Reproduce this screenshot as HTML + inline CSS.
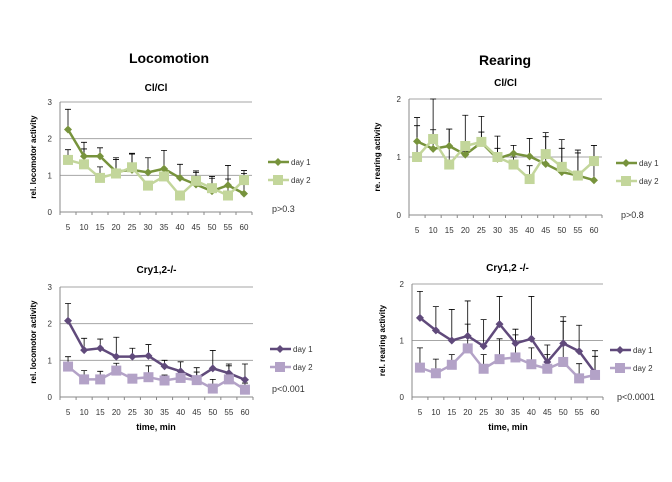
<!DOCTYPE html>
<html><head><meta charset="utf-8"><style>
body{margin:0;background:#fff;}
svg{display:block;font-family:"Liberation Sans",sans-serif;}
</style></head><body>
<svg id="c" width="672" height="482">
<text x="169" y="63" font-size="14" font-weight="bold" text-anchor="middle">Locomotion</text>
<text x="505" y="65" font-size="14" font-weight="bold" text-anchor="middle">Rearing</text>
<text x="156" y="430" font-size="9" font-weight="bold" text-anchor="middle">time, min</text>
<text x="508" y="430" font-size="9" font-weight="bold" text-anchor="middle">time, min</text>
</svg>
<script>
const categories=[5,10,15,20,25,30,35,40,45,50,55,60];
const loc1Day1=[2.25,1.52,1.52,1.1,1.15,1.08,1.18,0.93,0.75,0.57,0.73,0.5];
const loc1Err1=[2.8,1.9,1.75,1.48,1.6,1.48,1.68,1.3,1.12,0.97,1.27,1.13];
const loc1Day2=[1.42,1.3,0.93,1.05,1.22,0.72,0.97,0.45,0.85,0.65,0.45,0.87];
const loc1Err2=[1.7,1.72,1.23,1.43,1.58,0.8,1.0,0.55,1.08,0.92,0.9,1.05];
const rear1Day1=[1.27,1.14,1.19,1.04,1.25,0.97,1.06,1.01,0.88,0.74,0.68,0.6];
const rear1Err1=[1.68,2.0,1.48,1.72,1.7,1.36,1.2,1.32,1.42,1.3,1.12,1.2];
const rear1Day2=[1.0,1.31,0.87,1.19,1.26,1.0,0.87,0.62,1.05,0.83,0.68,0.93];
const rear1Err2=[1.54,1.47,1.48,1.1,1.43,1.15,1.0,0.85,1.35,1.15,1.07,1.2];
const loc2Day1=[2.08,1.28,1.33,1.1,1.1,1.12,0.84,0.7,0.5,0.78,0.65,0.47];
const loc2Err1=[2.55,1.6,1.58,1.63,1.33,1.43,1.0,0.96,0.8,1.27,0.9,0.9];
const loc2Day2=[0.83,0.48,0.48,0.72,0.5,0.54,0.45,0.52,0.46,0.23,0.48,0.2];
const loc2Err2=[1.1,0.72,0.7,0.92,0.5,0.85,0.6,0.55,0.68,0.48,0.85,0.38];
const rear2Day1=[1.4,1.18,1.0,1.08,0.9,1.29,0.95,1.03,0.62,0.95,0.81,0.43];
const rear2Err1=[1.87,1.6,1.55,1.7,1.37,1.78,1.2,1.78,0.92,1.42,1.27,0.82];
const rear2Day2=[0.52,0.42,0.57,0.86,0.5,0.67,0.7,0.58,0.5,0.62,0.33,0.39];
const rear2Err2=[0.87,0.67,0.75,1.29,0.75,1.03,1.1,0.87,0.75,1.34,0.59,0.72];
const locTicks=[0,1,2,3];
const rearTicks=[0,1,2];

const svg=document.getElementById('c');
const NS='http://www.w3.org/2000/svg';
function mk(tag,at,txt){const e=document.createElementNS(NS,tag);for(const k in at)e.setAttribute(k,at[k]);if(txt!==undefined)e.textContent=txt;svg.appendChild(e);return e;}

function panel(p){
  const {x0,x1,y0,yTop,max,ticks,title,ytitle,ytx,d1,e1,d2,e2,c1,c2,pval,px,py,lx,ly,key}=p;
  const bw=(x1-x0)/categories.length;
  const X=i=>x0+bw*(i+0.5);
  const Y=v=>y0-(y0-yTop)*v/max;
  let t=mk('text',{x:(x0+x1)/2,y:p.ty,'font-size':10,'font-weight':'bold','text-anchor':'middle'},title);
  
  
  ticks.forEach(v=>{
    if(v>0){let g=mk('line',{x1:x0,x2:x1,y1:Y(v),y2:Y(v),stroke:'#a6a6a6','stroke-width':1});
      
      }
    let l=mk('text',{x:x0-8,y:Y(v)+3,'font-size':8,'text-anchor':'end',fill:'#333'},v);
    
    
  });
  let ax=mk('line',{x1:x0,x2:x0,y1:yTop,y2:y0,stroke:'#888'});
  
  
  let bx=mk('line',{x1:x0,x2:x1,y1:y0,y2:y0,stroke:'#888'});
  
  
  for(let i=0;i<=categories.length;i++){let tk=mk('line',{x1:x0+bw*i,x2:x0+bw*i,y1:y0,y2:y0+3,stroke:'#888'});
    
    }
  categories.forEach((c,i)=>{let l=mk('text',{x:X(i),y:y0+18,'font-size':8,'text-anchor':'middle',fill:'#333'},c);
    
    });
  let yt=mk('text',{x:0,y:0,'font-size':8,'font-weight':'bold','text-anchor':'middle',transform:`translate(${ytx},${(yTop+y0)/2}) rotate(-90)`},ytitle);
  
  
  [[d1,e1],[d2,e2]].forEach(([d,e],s)=>{
    d.forEach((v,i)=>{
      let eb=mk('path',{d:`M${X(i)},${Y(v)}V${Y(e[i])}M${X(i)-3},${Y(e[i])}H${X(i)+3}`,stroke:'#000','stroke-width':0.8,fill:'none'});
      
      
    });
  });
  [[d1,c1,'diamond'],[d2,c2,'square']].forEach(([d,c,sh],s)=>{
    let ln=mk('polyline',{points:d.map((v,i)=>X(i)+','+Y(v)).join(' '),fill:'none',stroke:c,'stroke-width':2.5});
    
    
    d.forEach((v,i)=>{
      let m;
      if(sh==='diamond') m=mk('path',{d:`M${X(i)},${Y(v)-4}L${X(i)+4},${Y(v)}L${X(i)},${Y(v)+4}L${X(i)-4},${Y(v)}Z`,fill:c});
      else m=mk('rect',{x:X(i)-5,y:Y(v)-5,width:10,height:10,fill:c});
      
      
    });
  });
  [[c1,'day 1','diamond',ly],[c2,'day 2','square',ly+18]].forEach(([c,lab,sh,yy],s)=>{
    let l=mk('line',{x1:lx,x2:lx+21,y1:yy,y2:yy,stroke:c,'stroke-width':2.5});
    
    
    let m=sh==='diamond'?mk('path',{d:`M${lx+10},${yy-4}L${lx+14},${yy}L${lx+10},${yy+4}L${lx+6},${yy}Z`,fill:c}):mk('rect',{x:lx+5,y:yy-5,width:10,height:10,fill:c});
    
    
    let tx=mk('text',{x:lx+23,y:yy+3,'font-size':8,fill:'#333'},lab);
    
    
  });
  let pv=mk('text',{x:px,y:py,'font-size':9,fill:'#333'},pval);
  
  
}
panel({key:'loc-clcl',x0:60,x1:252,y0:212,yTop:102,max:3,ticks:locTicks,title:'Cl/Cl',ty:91,ytitle:'rel. locomotor activity',ytx:36,
  d1:loc1Day1,e1:loc1Err1,d2:loc1Day2,e2:loc1Err2,c1:'#77933C',c2:'#C3D69B',pval:'p>0.3',px:272,py:212,lx:268,ly:162});
panel({key:'rear-clcl',x0:409,x1:602,y0:215,yTop:99,max:2,ticks:rearTicks,title:'Cl/Cl',ty:86,ytitle:'re. rearing activity',ytx:380,
  d1:rear1Day1,e1:rear1Err1,d2:rear1Day2,e2:rear1Err2,c1:'#77933C',c2:'#C3D69B',pval:'p>0.8',px:621,py:218,lx:616,ly:163});
panel({key:'loc-cry',x0:60,x1:253,y0:397,yTop:287,max:3,ticks:locTicks,title:'Cry1,2-/-',ty:273,ytitle:'rel. locomotor activity',ytx:36,
  d1:loc2Day1,e1:loc2Err1,d2:loc2Day2,e2:loc2Err2,c1:'#604A7B',c2:'#B3A2C7',pval:'p<0.001',px:272,py:392,lx:270,ly:349});
panel({key:'rear-cry',x0:412,x1:603,y0:397,yTop:284,max:2,ticks:rearTicks,title:'Cry1,2 -/-',ty:271,ytitle:'rel. rearing activity',ytx:385,
  d1:rear2Day1,e1:rear2Err1,d2:rear2Day2,e2:rear2Err2,c1:'#604A7B',c2:'#B3A2C7',pval:'p<0.0001',px:617,py:400,lx:610,ly:350});
</script>
</body></html>
